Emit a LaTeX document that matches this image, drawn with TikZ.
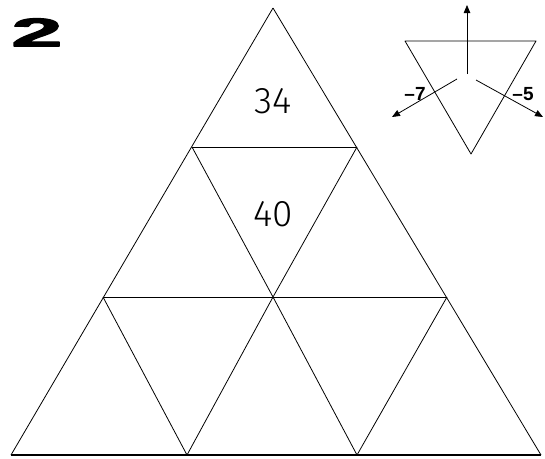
\documentclass[tikz,border=0pt]{standalone}
\usepackage{fontspec}
\setmainfont{Liberation Sans}
\newfontfamily\lightfont{Fira Sans Light}
\newfontfamily\heavyfont[FakeBold=2.5]{Liberation Sans Bold}
\usetikzlibrary{arrows.meta}
\tikzset{
  num/.style={font=\lightfont\fontsize{37}{37}\selectfont, inner sep=0pt},
  lab/.style={font=\bfseries\fontsize{19}{19}\selectfont, inner sep=0pt},
  arr/.style={line width=0.8pt, -{Triangle[length=8pt,width=6.5pt]}}
}
\begin{document}
\begin{tikzpicture}[x=1pt,y=-1pt,line width=0.8pt,line join=round]
\useasboundingbox (0,0) rectangle (545,458);
% big triangle
\draw (273,8) -- (541,455);
\draw (273,8) -- (11,455);
\draw[line width=1.5pt] (11,455) -- (541,455);
% rows
\draw (192,147) -- (357,147);
\draw (103,297) -- (447,297);
\draw (192,147) -- (273,297) -- (357,147);
\draw (103,297) -- (187,455) -- (273,297) -- (357,455) -- (447,297);
\node[num] (top) at (273,101) {34};
\node[num] (mid) at (273,214) {40};
% number of the puzzle
\node[anchor=north west, inner sep=0pt] (no) at (11,18)
  {\resizebox{51pt}{28pt}{\heavyfont 2}};
% small key triangle
\draw (405,41) -- (536,41) -- (471,154) -- cycle;
\draw[arr] (467,74) -- (467,5);
\draw[arr] (457,79) -- (392,117);
\draw[arr] (476,80) -- (543,117);
\node[lab] (left) at (415,94) {–7};
\node[lab] (right) at (523,94) {–5};
\end{tikzpicture}
\end{document}
